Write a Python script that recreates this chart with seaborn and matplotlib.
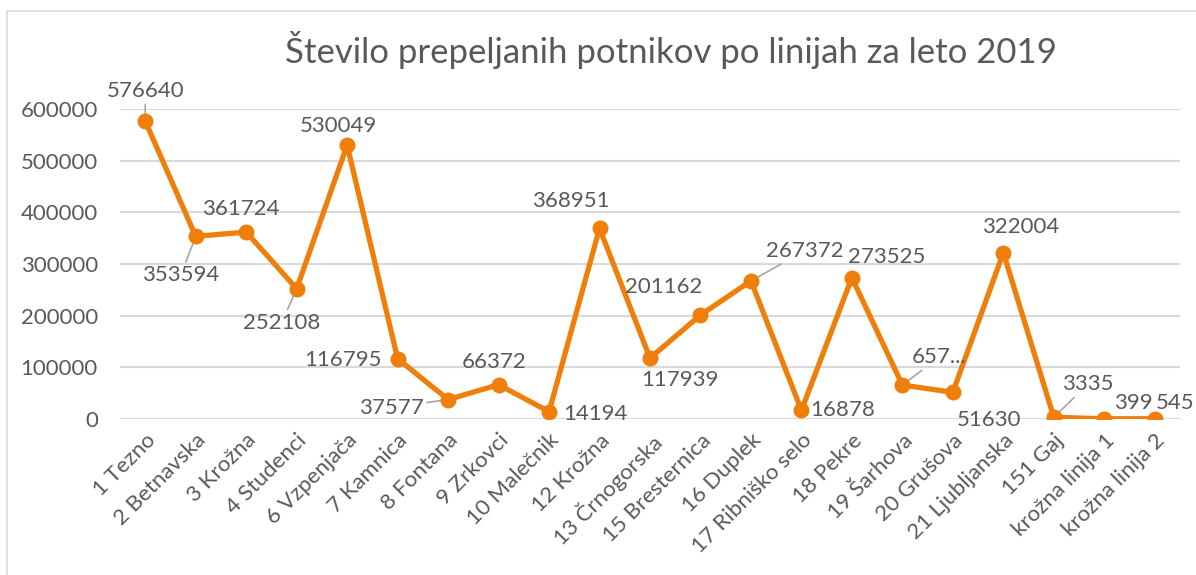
import matplotlib
matplotlib.use("Agg")
import matplotlib.pyplot as plt
import seaborn as sns
import pandas as pd
from matplotlib.patches import Rectangle

categories = ["1 Tezno", "2 Betnavska", "3 Krožna", "4 Studenci", "6 Vzpenjača",
              "7 Kamnica", "8 Fontana", "9 Zrkovci", "10 Malečnik", "12 Krožna",
              "13 Črnogorska", "15 Bresternica", "16 Duplek", "17 Ribniško selo",
              "18 Pekre", "19 Šarhova", "20 Grušova", "21 Ljubljanska", "151 Gaj",
              "krožna linija 1", "krožna linija 2"]
passengers = [576640, 353594, 361724, 252108, 530049, 116795, 37577, 66372, 14194,
              368951, 117939, 201162, 267372, 16878, 273525, 65700, 51630, 322004,
              3335, 399, 545]
value_labels = ["576640", "353594", "361724", "252108", "530049", "116795", "37577",
                "66372", "14194", "368951", "117939", "201162", "267372", "16878",
                "273525", "657...", "51630", "322004", "3335", "399", "545"]
y_ticks = [0, 100000, 200000, 300000, 400000, 500000, 600000]
title = "Število prepeljanih potnikov po linijah za leto 2019"

# label placement (pixel offsets from the point) and leader-line flags
label_offsets = [(0, 30), (-15, -39), (-5, 23), (-15, -34), (-9, 19), (-55, -1),
                 (-57, -8), (-4, 23), (46, -2), (-29, 27), (30, -22), (-37, 28),
                 (54, 30), (41, 0), (35, 21), (37, 28), (36, -28), (17, 26),
                 (34, 33), (29, 16), (20, 16)]
leaders = [True, True, False, True, False, False, True, False, False, False, False,
           False, True, False, False, True, False, False, True, False, False]

sns.set_theme(style="white")
plt.rcParams["font.family"] = ["Lato", "DejaVu Sans"]

TEXT = "#595959"
ORANGE = "#EF7F0A"
GRID = "#D9D9D9"
FS = 16

df = pd.DataFrame({"linija": categories, "potniki": passengers})
df["x"] = range(len(df))

fig = plt.figure(figsize=(11.96, 5.75), dpi=100)
ax = fig.add_axes([120 / 1196, 1 - 419 / 575, 1060 / 1196, 310 / 575])

# chart border
fig.patches.append(Rectangle((7 / 1196, -0.1), 1.2, 1 - 11 / 575 + 0.1,
                             transform=fig.transFigure, fill=False,
                             edgecolor="#D9D9D9", linewidth=1.2))

ax.set_yticks(y_ticks)
ax.yaxis.grid(True, color=GRID, linewidth=1.5)
ax.set_axisbelow(True)

# leader lines (drawn below the series, clipped at the invisible label box)
for i in range(len(df)):
    if leaders[i]:
        ax.annotate(value_labels[i], xy=(i, passengers[i]), xytext=label_offsets[i],
                    textcoords="offset pixels", ha="center", va="center",
                    fontsize=FS, color=(0, 0, 0, 0), zorder=1,
                    arrowprops=dict(arrowstyle="-", color="#A6A6A6", lw=1.2,
                                    shrinkA=0, shrinkB=0))

sns.lineplot(data=df, x="x", y="potniki", ax=ax, color=ORANGE, linewidth=3.8,
             marker="o", markersize=11.5, markeredgewidth=0, zorder=3)

for i in range(len(df)):
    ax.annotate(value_labels[i], xy=(i, passengers[i]), xytext=label_offsets[i],
                textcoords="offset pixels", ha="center", va="center",
                fontsize=FS, color=TEXT, zorder=4)

ax.set_xlim(-0.5, len(df) - 0.5)
ax.set_ylim(0, 600000)
ax.set_xticks(df["x"])
ax.set_xticklabels(categories, rotation=45, ha="right", rotation_mode="anchor",
                   fontsize=FS, color=TEXT)
ax.tick_params(axis="x", length=0, pad=8)
ax.tick_params(axis="y", length=0, pad=16, labelsize=FS, labelcolor=TEXT)
ax.set_xlabel("")
ax.set_ylabel("")
for s in ax.spines.values():
    s.set_visible(False)

fig.text(671 / 1196, 1 - 50 / 575, title, ha="center", va="center",
         fontsize=25, color=TEXT)

fig.savefig("out.png", dpi=100)
